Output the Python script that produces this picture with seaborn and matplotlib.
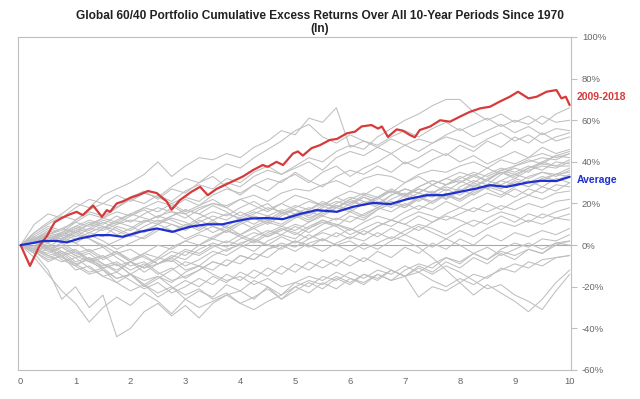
import numpy as np
import pandas as pd
import seaborn as sns
import matplotlib.pyplot as plt

# cumulative excess return (%) of each 10-year window, sampled quarterly
QUARTERS = [i / 4 for i in range(41)]

GRAY_RETURNS = [
    [0, 6, 11, 15, 20, 18, 24, 27, 30, 34, 40, 33, 38, 42, 41, 44, 42, 47, 50, 55,
     53, 61, 59, 66, 47, 50, 48, 52, 55, 52, 56, 59, 55, 58, 61, 57, 60, 58, 62, 59, 60],
    [0, 2, 5, 8, 6, 10, 13, 11, 15, 18, 16, 20, 23, 21, 26, 30, 28, 33, 36, 34,
     38, 42, 40, 45, 48, 46, 52, 56, 60, 63, 67, 70, 70, 64, 60, 63, 59, 62, 58, 63, 66],
    [0, 5, 9, 7, 12, 16, 14, 18, 22, 20, 24, 21, 26, 29, 27, 32, 30, 35, 38, 34,
     37, 40, 36, 42, 45, 43, 47, 44, 48, 51, 49, 53, 56, 52, 55, 58, 54, 57, 53, 56, 55],
    [0, -2, 3, 6, 4, 8, 12, 10, 14, 17, 13, 18, 22, 19, 24, 27, 25, 29, 26, 31,
     34, 30, 35, 38, 33, 37, 40, 44, 39, 42, 46, 43, 48, 45, 50, 47, 52, 49, 54, 50, 52],
    [0, 6, 10, 14, 12, 17, 20, 18, 23, 26, 22, 27, 25, 30, 33, 28, 24, 29, 32, 30,
     35, 31, 28, 33, 36, 34, 38, 35, 40, 37, 41, 44, 40, 43, 39, 42, 45, 42, 47, 44, 46],
    [0, -3, -8, -5, -12, -10, -15, -18, -14, -20, -16, -12, -8, -10, -5, -2, 0, -3, 2, 5,
     3, 8, 11, 9, 14, 12, 17, 20, 18, 23, 26, 22, 28, 31, 29, 34, 37, 35, 40, 43, 45],
    [0, 2, -1, 3, 1, 5, 2, -2, 1, 4, 8, 6, 10, 7, 11, 9, 13, 16, 14, 12,
     15, 18, 16, 20, 23, 21, 19, 24, 27, 25, 29, 32, 30, 34, 31, 36, 38, 40, 42, 41, 44],
    [0, 3, 1, 5, 8, 6, 4, 9, 7, 11, 14, 12, 9, 13, 16, 14, 18, 21, 17, 20,
     24, 22, 19, 23, 26, 24, 28, 25, 30, 33, 29, 32, 35, 33, 37, 34, 38, 41, 39, 43, 42],
    [0, -4, -2, -7, -10, -6, -9, -13, -8, -4, -6, -1, 2, 0, 4, 7, 5, 9, 12, 10,
     14, 11, 15, 18, 16, 20, 23, 19, 24, 27, 25, 29, 31, 28, 32, 35, 33, 37, 39, 38, 41],
    [0, 1, 4, 2, 6, 3, -1, 2, 5, 3, 7, 10, 8, 12, 9, 6, 10, 13, 11, 15,
     17, 14, 18, 21, 19, 23, 20, 24, 27, 25, 29, 26, 30, 33, 31, 35, 32, 36, 38, 37, 40],
    [0, 2, 5, 3, 7, 10, 8, 12, 15, 13, 11, 14, 17, 15, 12, 8, 11, 14, 12, 16,
     19, 17, 21, 18, 22, 25, 23, 27, 24, 28, 31, 29, 33, 30, 34, 37, 35, 38, 36, 40, 39],
    [0, -2, 1, -3, -6, -4, -9, -12, -8, -11, -7, -3, -5, 0, 3, 1, 5, 2, 6, 9,
     7, 11, 14, 12, 16, 13, 17, 20, 18, 22, 25, 23, 27, 24, 28, 31, 29, 33, 35, 34, 37],
    [0, 3, 6, 4, 8, 11, 9, 5, 8, 12, 10, 14, 17, 15, 19, 16, 12, 15, 18, 16,
     13, 17, 20, 18, 22, 19, 23, 26, 24, 21, 25, 28, 26, 30, 27, 31, 34, 32, 35, 33, 36],
    [0, -1, -5, -3, -8, -6, -11, -9, -14, -10, -6, -8, -3, -5, -1, 2, 0, 4, 7, 5,
     9, 6, 10, 13, 11, 15, 18, 16, 20, 17, 21, 24, 22, 26, 29, 27, 31, 28, 32, 34, 35],
    [0, 4, 2, 6, 9, 7, 11, 8, 5, 9, 12, 10, 7, 11, 14, 12, 16, 13, 10, 14,
     17, 15, 19, 16, 20, 23, 21, 18, 22, 25, 23, 27, 24, 28, 31, 29, 32, 30, 33, 31, 34],
    [0, 2, -2, 1, -3, -7, -5, -10, -8, -13, -9, -5, -7, -2, 1, -1, 3, 6, 4, 8,
     5, 9, 12, 10, 7, 11, 14, 12, 16, 19, 17, 21, 18, 22, 25, 23, 27, 24, 28, 26, 30],
    [0, 3, 7, 5, 9, 12, 10, 14, 11, 15, 18, 16, 13, 17, 20, 18, 22, 19, 16, 20,
     17, 13, 16, 19, 17, 21, 18, 22, 25, 23, 20, 24, 21, 25, 28, 26, 23, 27, 25, 29, 28],
    [0, -3, 0, -4, -2, -7, -10, -8, -12, -9, -14, -11, -16, -12, -8, -10, -5, -7, -2, 1,
     -1, 3, 6, 4, 8, 5, 9, 12, 10, 14, 11, 15, 18, 16, 20, 17, 21, 24, 22, 25, 26],
    [0, 2, 5, 3, 7, 4, 8, 11, 9, 6, 10, 7, 3, 6, 9, 7, 11, 8, 4, 7,
     10, 8, 12, 9, 5, 8, 11, 9, 13, 16, 14, 12, 15, 18, 16, 19, 17, 20, 18, 21, 22],
    [0, -2, -6, -4, -9, -13, -11, -16, -14, -19, -15, -18, -13, -10, -12, -7, -9, -4, -6, -1,
     2, 0, -3, 1, 4, 2, 6, 3, 7, 10, 8, 5, 9, 12, 10, 14, 11, 15, 13, 16, 18],
    [0, 1, -3, -1, -5, -8, -6, -3, -7, -4, 0, -2, 2, 5, 3, 7, 4, 1, 5, 8,
     6, 3, 7, 10, 8, 5, 9, 12, 10, 7, 11, 14, 12, 9, 13, 16, 14, 11, 15, 13, 15],
    [0, -3, -7, -5, -10, -14, -12, -18, -22, -19, -25, -21, -17, -20, -15, -18, -13, -16, -11, -14,
     -9, -12, -7, -10, -5, -8, -3, -6, -1, -4, 1, -2, 3, 0, 5, 2, 6, 4, 7, 5, 8],
    [0, 2, -1, -5, -3, -8, -11, -9, -14, -17, -15, -20, -24, -21, -26, -23, -28, -31, -27, -24,
     -20, -23, -18, -21, -16, -19, -14, -17, -12, -9, -11, -6, -9, -4, -7, -2, 1, -1, 3, 2, 5],
    [0, -6, -14, -22, -28, -37, -30, -25, -29, -23, -27, -33, -26, -22, -25, -19, -22, -17, -20, -26,
     -22, -18, -21, -16, -19, -14, -17, -12, -15, -10, -13, -8, -11, -6, -9, -4, -7, -2, -4, 0, 2],
    [0, 3, 6, 4, 1, -3, -1, -6, -10, -8, -13, -17, -15, -12, -8, -10, -5, -7, -2, 0,
     -3, 1, 3, 0, 2, -2, 1, 4, 2, -1, -6, -12, -18, -14, -16, -11, -13, -8, -10, -6, -5],
    [0, -4, -12, -26, -20, -30, -24, -44, -40, -32, -28, -34, -29, -35, -28, -24, -22, -26, -20, -24,
     -18, -20, -15, -17, -13, -16, -12, -14, -10, -13, -9, -6, -8, -4, -7, -3, -5, -2, -4, 1, 2],
    [0, 2, 4, 1, 5, 3, 0, -4, -2, -6, -9, -7, -12, -10, -14, -17, -15, -19, -16, -20,
     -18, -15, -17, -13, -16, -18, -14, -17, -15, -25, -20, -22, -18, -24, -19, -23, -27, -32, -26, -18, -12],
    [0, -3, -1, -6, -9, -7, -12, -16, -14, -19, -23, -20, -26, -30, -27, -24, -28, -25, -21, -26,
     -20, -17, -19, -15, -18, -14, -16, -12, -15, -11, -14, -10, -13, -17, -21, -19, -24, -27, -31, -22, -14],
    [0, 1, -2, 0, -4, -2, -6, -3, -8, -5, -9, -6, -2, -4, 0, -3, 1, 3, 0, -2,
     2, -1, 3, 0, -3, 1, -2, 2, 5, 2, -1, 3, 0, -4, -1, -5, -2, 1, -2, 1, 0],
    [0, -2, -5, -8, -6, -11, -15, -13, -17, -21, -18, -23, -20, -16, -19, -14, -17, -12, -15, -10,
     -13, -8, -11, -7, -10, -6, -9, -12, -15, -13, -17, -20, -16, -19, -15, -12, -9, -11, -7, -6, -5],
    [0, 10, 15, 13, 18, 22, 20, 24, 21, 25, 23, 20, 16, 19, 22, 18, 14, 17, 20, 15,
     18, 21, 19, 23, 20, 24, 22, 26, 23, 27, 25, 22, 26, 29, 27, 24, 28, 31, 28, 32, 30],
    [0, 4, 8, 6, 11, 15, 13, 18, 22, 25, 23, 28, 32, 30, 35, 39, 37, 42, 46, 50,
     55, 58, 52, 49, 53, 50, 47, 51, 48, 45, 49, 52, 50, 47, 51, 54, 50, 53, 49, 52, 54],
    [0, -1, 2, 5, 3, 6, 9, 7, 4, 7, 10, 13, 11, 8, 12, 15, 13, 10, 14, 17,
     15, 12, 16, 19, 17, 14, 18, 21, 19, 23, 21, 25, 22, 26, 29, 27, 30, 28, 31, 34, 33],
    [0, 3, 5, 8, 11, 9, 13, 16, 14, 18, 21, 19, 15, 10, 6, 9, 5, 8, 11, 9,
     13, 16, 14, 18, 21, 19, 23, 26, 24, 28, 31, 29, 32, 35, 33, 36, 34, 37, 40, 38, 38],
    [0, -2, -4, -1, -5, -3, -7, -4, -8, -11, -9, -6, -10, -7, -3, -5, -1, 2, 0, 4,
     1, 5, 2, 6, 3, 7, 4, 8, 5, 9, 6, 3, 7, 4, 8, 11, 9, 12, 10, 13, 12],
    [0, 2, 4, 3, 6, 8, 7, 10, 12, 11, 14, 16, 15, 18, 20, 19, 22, 24, 21, 25,
     27, 26, 29, 31, 28, 32, 34, 33, 30, 34, 36, 35, 38, 40, 37, 41, 39, 42, 44, 42, 44],
]

# 2009-2018 window
RECENT_YEARS = [0.00, 0.17, 0.35, 0.47, 0.62, 0.75, 0.86, 1.02, 1.13, 1.32, 1.48, 1.57, 1.63,
                1.75, 1.86, 2.02, 2.14, 2.32, 2.48, 2.66, 2.75, 2.90, 3.11, 3.27, 3.41, 3.57,
                3.81, 4.05, 4.23, 4.41, 4.50, 4.66, 4.78, 4.96, 5.05, 5.14, 5.30, 5.45, 5.63,
                5.76, 5.94, 6.09, 6.21, 6.39, 6.51, 6.58, 6.69, 6.85, 6.96, 7.09, 7.18, 7.27,
                7.46, 7.64, 7.82, 8.00, 8.18, 8.37, 8.55, 8.73, 8.91, 9.06, 9.25, 9.40, 9.58,
                9.76, 9.85, 9.93, 10.00]
RECENT_RETURNS = [0, -10, 0, 4, 11, 13, 14.4, 16, 14.4, 19, 13.6, 16.8, 16,
                  20, 21, 23, 24, 26, 25, 21, 17, 21.6, 25.6, 28, 24, 27,
                  30, 33, 36, 38.5, 37.6, 40, 38.5, 44, 45, 43, 46.6, 48, 50.5,
                  51, 53.7, 54.5, 57, 57.7, 56, 57, 52, 55.6, 55, 52.9, 51.8, 55.3,
                  57, 60, 59.3, 61.7, 64, 65.7, 66.5, 69, 71.3, 73.7, 70.5, 71.3, 73.7,
                  74.5, 70.5, 71.3, 67.3]

# average of all windows
AVG_YEARS = [0, 0.22, 0.41, 0.66, 0.84, 1.08, 1.39, 1.63, 1.86, 2.17, 2.48, 2.77, 3.08, 3.39,
             3.68, 3.87, 4.18, 4.48, 4.78, 5.09, 5.39, 5.76, 6.05, 6.42, 6.73, 7.03, 7.40,
             7.69, 8.00, 8.30, 8.55, 8.85, 9.22, 9.46, 9.76, 10.0]
AVG_RETURNS = [0, 1, 2, 2, 1.3, 3.2, 4.8, 4.8, 4, 6.4, 8, 6.4, 8.8, 10,
               10, 11.2, 12.8, 13, 12.5, 15, 16.8, 16, 18.4, 20.3, 19.7, 22, 24,
               24, 25.6, 27.2, 28.8, 28, 30, 30.9, 30.8, 32.8]

Y_TICKS = [-60, -40, -20, 0, 20, 40, 60, 80, 100]
X_TICKS = [0, 1, 2, 3, 4, 5, 6, 7, 8, 9, 10]

GRAY = "#bfbfbf"
RED = "#d63a3a"
BLUE = "#1f2fd0"
AXIS_GRAY = "#bfbfbf"
TEXT_GRAY = "#666666"

rows = []
for i, series in enumerate(GRAY_RETURNS):
    for t, r in zip(QUARTERS, series):
        rows.append({"window": i, "year": t, "ret": r})
gray_df = pd.DataFrame(rows)
recent_df = pd.DataFrame({"year": RECENT_YEARS, "ret": RECENT_RETURNS})
avg_df = pd.DataFrame({"year": AVG_YEARS, "ret": AVG_RETURNS})

sns.set_style("white")
plt.rcParams["font.family"] = ["Liberation Sans", "DejaVu Sans"]

fig = plt.figure(figsize=(6.4, 3.99), dpi=100)
ax = fig.add_axes([0.0288, 0.0727, 0.863, 0.8346])

sns.lineplot(data=gray_df, x="year", y="ret", units="window", estimator=None,
             color=GRAY, linewidth=0.75, ax=ax)
ax.axhline(0, color="#a8a8a8", linewidth=0.8, zorder=1)
sns.lineplot(data=recent_df, x="year", y="ret", color=RED, linewidth=1.6, ax=ax)
sns.lineplot(data=avg_df, x="year", y="ret", color=BLUE, linewidth=1.6, ax=ax)

ax.text(10.13, 71, "2009-2018", color=RED, fontsize=7.5, fontweight="bold",
        ha="left", va="center", clip_on=False)
ax.text(10.13, 31.5, "Average", color=BLUE, fontsize=7.5, fontweight="bold",
        ha="left", va="center", clip_on=False)

ax.set_xlim(-0.04, 10.02)
ax.set_ylim(-60, 100)
ax.set_xticks(X_TICKS)
ax.set_xticklabels([str(x) for x in X_TICKS])
ax.set_yticks(Y_TICKS)
ax.set_yticklabels([f"{v}%" for v in Y_TICKS])
ax.yaxis.tick_right()
ax.tick_params(axis="y", direction="out", length=4, width=0.8, color=AXIS_GRAY,
               labelsize=6.8, labelcolor=TEXT_GRAY, pad=4)
ax.tick_params(axis="x", length=0, labelsize=6.8, labelcolor=TEXT_GRAY, pad=5)
ax.set_xlabel("")
ax.set_ylabel("")
for s in ax.spines.values():
    s.set_color(AXIS_GRAY)
    s.set_linewidth(0.8)

fig.text(0.5, 0.944, "Global 60/40 Portfolio Cumulative Excess Returns Over All 10-Year Periods Since 1970\n(ln)",
         ha="center", va="center", fontsize=8.6, fontweight="bold", color="#222222",
         linespacing=1.1)

fig.savefig("out.png", dpi=100)
